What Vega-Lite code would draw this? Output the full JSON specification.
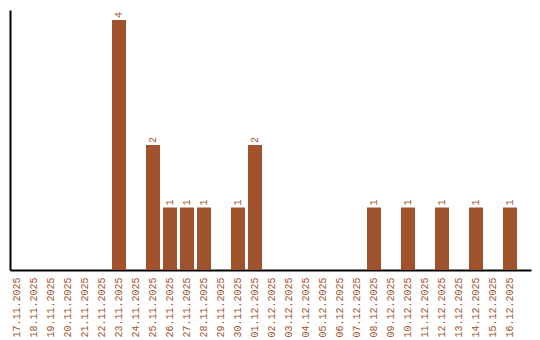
{
  "$schema": "https://vega.github.io/schema/vega-lite/v6.json",
  "width": 521,
  "height": 260,
  "padding": {"left": 10, "top": 10, "right": 9, "bottom": 70},
  "autosize": {"type": "none"},
  "config": {"view": {"stroke": null}, "font": "Liberation Mono"},
  "data": {"values": [
    {"date": "17.11.2025", "count": 0},
    {"date": "18.11.2025", "count": 0},
    {"date": "19.11.2025", "count": 0},
    {"date": "20.11.2025", "count": 0},
    {"date": "21.11.2025", "count": 0},
    {"date": "22.11.2025", "count": 0},
    {"date": "23.11.2025", "count": 4},
    {"date": "24.11.2025", "count": 0},
    {"date": "25.11.2025", "count": 2},
    {"date": "26.11.2025", "count": 1},
    {"date": "27.11.2025", "count": 1},
    {"date": "28.11.2025", "count": 1},
    {"date": "29.11.2025", "count": 0},
    {"date": "30.11.2025", "count": 1},
    {"date": "01.12.2025", "count": 2},
    {"date": "02.12.2025", "count": 0},
    {"date": "03.12.2025", "count": 0},
    {"date": "04.12.2025", "count": 0},
    {"date": "05.12.2025", "count": 0},
    {"date": "06.12.2025", "count": 0},
    {"date": "07.12.2025", "count": 0},
    {"date": "08.12.2025", "count": 1},
    {"date": "09.12.2025", "count": 0},
    {"date": "10.12.2025", "count": 1},
    {"date": "11.12.2025", "count": 0},
    {"date": "12.12.2025", "count": 1},
    {"date": "13.12.2025", "count": 0},
    {"date": "14.12.2025", "count": 1},
    {"date": "15.12.2025", "count": 0},
    {"date": "16.12.2025", "count": 1}
  ]},
  "encoding": {
    "x": {
      "field": "date", "type": "nominal", "sort": null,
      "scale": {"paddingInner": 0.1765, "paddingOuter": 0.412, "align": 0},
      "axis": {
        "title": null, "labelAngle": -90, "labelAlign": "right", "labelBaseline": "middle",
        "labelColor": "#a0522d", "labelFont": "Liberation Mono", "labelFontSize": 10,
        "ticks": false, "labelPadding": 7, "domainColor": "#000000", "domainWidth": 2,
        "labelOverlap": false
      }
    },
    "y": {
      "field": "count", "type": "quantitative",
      "scale": {"domain": [0, 4.16], "nice": false},
      "axis": {"title": null, "labels": false, "ticks": false, "grid": false, "domainColor": "#000000", "domainWidth": 2}
    }
  },
  "layer": [
    {"mark": {"type": "bar", "color": "#a0522d"}},
    {
      "transform": [{"filter": "datum.count > 0"}],
      "mark": {"type": "text", "angle": -90, "align": "left", "baseline": "middle", "dx": 2, "color": "#a0522d", "font": "Liberation Mono", "fontSize": 10},
      "encoding": {"text": {"field": "count", "type": "quantitative"}}
    }
  ]
}
